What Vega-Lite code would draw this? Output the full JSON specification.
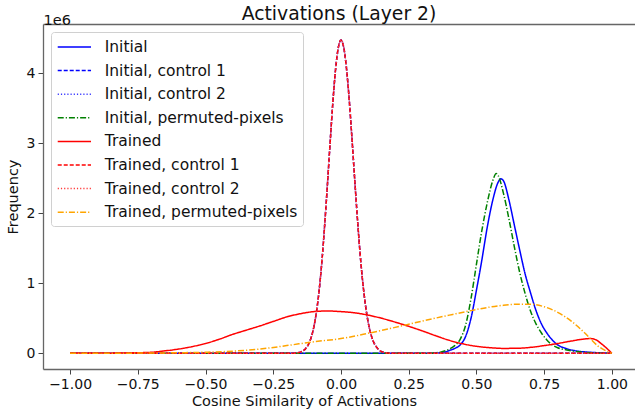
{
  "$schema": "https://vega.github.io/schema/vega-lite/v6.json",
  "width": 592,
  "height": 345,
  "autosize": {"type": "none"},
  "padding": {"left": 43, "top": 24, "right": 0, "bottom": 48},
  "config": {
    "font": "DejaVu Sans",
    "view": {"stroke": null},
    "axis": {"grid": false, "domainColor": "#666", "domainWidth": 1.3, "tickColor": "#444", "tickWidth": 1, "tickSize": 5, "labelColor": "#111", "titleColor": "#111", "labelFontSize": 14, "titleFontSize": 14.5, "titleFontWeight": "normal", "labelPadding": 3}
  },
  "title": {"text": "Activations (Layer 2)", "fontSize": 18.8, "fontWeight": "normal", "color": "#111", "anchor": "middle", "baseline": "alphabetic", "offset": -8, "dy": 19},
  "data": {"values": [
    {"s":"Initial","x":-1,"y":0},{"s":"Initial","x":-0.5,"y":0},{"s":"Initial","x":0,"y":0},{"s":"Initial","x":0.3,"y":0},{"s":"Initial","x":0.35,"y":0.004},{"s":"Initial","x":0.38,"y":0.015},{"s":"Initial","x":0.4,"y":0.04},{"s":"Initial","x":0.42,"y":0.07},{"s":"Initial","x":0.44,"y":0.12},{"s":"Initial","x":0.46,"y":0.24},{"s":"Initial","x":0.48,"y":0.5},{"s":"Initial","x":0.5,"y":0.9},{"s":"Initial","x":0.52,"y":1.33},{"s":"Initial","x":0.54,"y":1.8},{"s":"Initial","x":0.56,"y":2.18},{"s":"Initial","x":0.58,"y":2.44},{"s":"Initial","x":0.59,"y":2.49},{"s":"Initial","x":0.6,"y":2.46},{"s":"Initial","x":0.62,"y":2.19},{"s":"Initial","x":0.64,"y":1.83},{"s":"Initial","x":0.66,"y":1.47},{"s":"Initial","x":0.68,"y":1.13},{"s":"Initial","x":0.7,"y":0.86},{"s":"Initial","x":0.72,"y":0.61},{"s":"Initial","x":0.74,"y":0.42},{"s":"Initial","x":0.76,"y":0.29},{"s":"Initial","x":0.78,"y":0.19},{"s":"Initial","x":0.8,"y":0.12},{"s":"Initial","x":0.83,"y":0.07},{"s":"Initial","x":0.86,"y":0.04},{"s":"Initial","x":0.9,"y":0.02},{"s":"Initial","x":0.95,"y":0.008},{"s":"Initial","x":1,"y":0},

    {"s":"Initial, control 1","x":-1,"y":0},{"s":"Initial, control 1","x":-0.6,"y":0},{"s":"Initial, control 1","x":-0.3,"y":0},{"s":"Initial, control 1","x":-0.2,"y":0},{"s":"Initial, control 1","x":-0.18,"y":0.001},{"s":"Initial, control 1","x":-0.16,"y":0.008},{"s":"Initial, control 1","x":-0.15,"y":0.017},{"s":"Initial, control 1","x":-0.14,"y":0.035},{"s":"Initial, control 1","x":-0.13,"y":0.069},{"s":"Initial, control 1","x":-0.12,"y":0.128},{"s":"Initial, control 1","x":-0.11,"y":0.225},{"s":"Initial, control 1","x":-0.1,"y":0.379},{"s":"Initial, control 1","x":-0.09,"y":0.605},{"s":"Initial, control 1","x":-0.08,"y":0.92},{"s":"Initial, control 1","x":-0.07,"y":1.33},{"s":"Initial, control 1","x":-0.06,"y":1.84},{"s":"Initial, control 1","x":-0.05,"y":2.41},{"s":"Initial, control 1","x":-0.04,"y":3.01},{"s":"Initial, control 1","x":-0.03,"y":3.58},{"s":"Initial, control 1","x":-0.02,"y":4.05},{"s":"Initial, control 1","x":-0.01,"y":4.36},{"s":"Initial, control 1","x":0,"y":4.47},{"s":"Initial, control 1","x":0.01,"y":4.37},{"s":"Initial, control 1","x":0.02,"y":4.08},{"s":"Initial, control 1","x":0.03,"y":3.64},{"s":"Initial, control 1","x":0.04,"y":3.1},{"s":"Initial, control 1","x":0.05,"y":2.52},{"s":"Initial, control 1","x":0.06,"y":1.96},{"s":"Initial, control 1","x":0.07,"y":1.45},{"s":"Initial, control 1","x":0.08,"y":1.03},{"s":"Initial, control 1","x":0.09,"y":0.7},{"s":"Initial, control 1","x":0.1,"y":0.45},{"s":"Initial, control 1","x":0.11,"y":0.28},{"s":"Initial, control 1","x":0.12,"y":0.165},{"s":"Initial, control 1","x":0.13,"y":0.095},{"s":"Initial, control 1","x":0.14,"y":0.05},{"s":"Initial, control 1","x":0.15,"y":0.025},{"s":"Initial, control 1","x":0.16,"y":0.012},{"s":"Initial, control 1","x":0.18,"y":0.002},{"s":"Initial, control 1","x":0.2,"y":0},{"s":"Initial, control 1","x":0.3,"y":0},{"s":"Initial, control 1","x":0.6,"y":0},{"s":"Initial, control 1","x":1,"y":0},

    {"s":"Initial, control 2","x":-1,"y":0},{"s":"Initial, control 2","x":-0.6,"y":0},{"s":"Initial, control 2","x":-0.3,"y":0},{"s":"Initial, control 2","x":-0.2,"y":0},{"s":"Initial, control 2","x":-0.18,"y":0.001},{"s":"Initial, control 2","x":-0.16,"y":0.008},{"s":"Initial, control 2","x":-0.15,"y":0.017},{"s":"Initial, control 2","x":-0.14,"y":0.035},{"s":"Initial, control 2","x":-0.13,"y":0.069},{"s":"Initial, control 2","x":-0.12,"y":0.128},{"s":"Initial, control 2","x":-0.11,"y":0.225},{"s":"Initial, control 2","x":-0.1,"y":0.379},{"s":"Initial, control 2","x":-0.09,"y":0.605},{"s":"Initial, control 2","x":-0.08,"y":0.92},{"s":"Initial, control 2","x":-0.07,"y":1.33},{"s":"Initial, control 2","x":-0.06,"y":1.84},{"s":"Initial, control 2","x":-0.05,"y":2.41},{"s":"Initial, control 2","x":-0.04,"y":3.01},{"s":"Initial, control 2","x":-0.03,"y":3.58},{"s":"Initial, control 2","x":-0.02,"y":4.05},{"s":"Initial, control 2","x":-0.01,"y":4.36},{"s":"Initial, control 2","x":0,"y":4.47},{"s":"Initial, control 2","x":0.01,"y":4.37},{"s":"Initial, control 2","x":0.02,"y":4.08},{"s":"Initial, control 2","x":0.03,"y":3.64},{"s":"Initial, control 2","x":0.04,"y":3.1},{"s":"Initial, control 2","x":0.05,"y":2.52},{"s":"Initial, control 2","x":0.06,"y":1.96},{"s":"Initial, control 2","x":0.07,"y":1.45},{"s":"Initial, control 2","x":0.08,"y":1.03},{"s":"Initial, control 2","x":0.09,"y":0.7},{"s":"Initial, control 2","x":0.1,"y":0.45},{"s":"Initial, control 2","x":0.11,"y":0.28},{"s":"Initial, control 2","x":0.12,"y":0.165},{"s":"Initial, control 2","x":0.13,"y":0.095},{"s":"Initial, control 2","x":0.14,"y":0.05},{"s":"Initial, control 2","x":0.15,"y":0.025},{"s":"Initial, control 2","x":0.16,"y":0.012},{"s":"Initial, control 2","x":0.18,"y":0.002},{"s":"Initial, control 2","x":0.2,"y":0},{"s":"Initial, control 2","x":0.3,"y":0},{"s":"Initial, control 2","x":0.6,"y":0},{"s":"Initial, control 2","x":1,"y":0},

    {"s":"Initial, permuted-pixels","x":-1,"y":0},{"s":"Initial, permuted-pixels","x":-0.5,"y":0},{"s":"Initial, permuted-pixels","x":0,"y":0},{"s":"Initial, permuted-pixels","x":0.3,"y":0},{"s":"Initial, permuted-pixels","x":0.34,"y":0.005},{"s":"Initial, permuted-pixels","x":0.37,"y":0.02},{"s":"Initial, permuted-pixels","x":0.4,"y":0.06},{"s":"Initial, permuted-pixels","x":0.42,"y":0.11},{"s":"Initial, permuted-pixels","x":0.44,"y":0.2},{"s":"Initial, permuted-pixels","x":0.46,"y":0.4},{"s":"Initial, permuted-pixels","x":0.48,"y":0.78},{"s":"Initial, permuted-pixels","x":0.5,"y":1.27},{"s":"Initial, permuted-pixels","x":0.52,"y":1.75},{"s":"Initial, permuted-pixels","x":0.54,"y":2.15},{"s":"Initial, permuted-pixels","x":0.56,"y":2.46},{"s":"Initial, permuted-pixels","x":0.573,"y":2.567},{"s":"Initial, permuted-pixels","x":0.58,"y":2.54},{"s":"Initial, permuted-pixels","x":0.6,"y":2.28},{"s":"Initial, permuted-pixels","x":0.62,"y":1.92},{"s":"Initial, permuted-pixels","x":0.64,"y":1.52},{"s":"Initial, permuted-pixels","x":0.66,"y":1.15},{"s":"Initial, permuted-pixels","x":0.68,"y":0.85},{"s":"Initial, permuted-pixels","x":0.7,"y":0.6},{"s":"Initial, permuted-pixels","x":0.72,"y":0.42},{"s":"Initial, permuted-pixels","x":0.74,"y":0.29},{"s":"Initial, permuted-pixels","x":0.76,"y":0.19},{"s":"Initial, permuted-pixels","x":0.78,"y":0.12},{"s":"Initial, permuted-pixels","x":0.8,"y":0.08},{"s":"Initial, permuted-pixels","x":0.83,"y":0.05},{"s":"Initial, permuted-pixels","x":0.86,"y":0.03},{"s":"Initial, permuted-pixels","x":0.9,"y":0.015},{"s":"Initial, permuted-pixels","x":0.95,"y":0.005},{"s":"Initial, permuted-pixels","x":1,"y":0},

    {"s":"Trained","x":-1,"y":0},{"s":"Trained","x":-0.9,"y":0.001},{"s":"Trained","x":-0.8,"y":0.004},{"s":"Trained","x":-0.75,"y":0.008},{"s":"Trained","x":-0.7,"y":0.015},{"s":"Trained","x":-0.65,"y":0.035},{"s":"Trained","x":-0.6,"y":0.06},{"s":"Trained","x":-0.55,"y":0.095},{"s":"Trained","x":-0.5,"y":0.14},{"s":"Trained","x":-0.45,"y":0.2},{"s":"Trained","x":-0.4,"y":0.27},{"s":"Trained","x":-0.35,"y":0.33},{"s":"Trained","x":-0.3,"y":0.39},{"s":"Trained","x":-0.25,"y":0.455},{"s":"Trained","x":-0.2,"y":0.52},{"s":"Trained","x":-0.15,"y":0.565},{"s":"Trained","x":-0.1,"y":0.595},{"s":"Trained","x":-0.05,"y":0.604},{"s":"Trained","x":0,"y":0.595},{"s":"Trained","x":0.05,"y":0.578},{"s":"Trained","x":0.1,"y":0.545},{"s":"Trained","x":0.15,"y":0.5},{"s":"Trained","x":0.2,"y":0.445},{"s":"Trained","x":0.25,"y":0.385},{"s":"Trained","x":0.3,"y":0.32},{"s":"Trained","x":0.35,"y":0.25},{"s":"Trained","x":0.4,"y":0.185},{"s":"Trained","x":0.45,"y":0.135},{"s":"Trained","x":0.5,"y":0.1},{"s":"Trained","x":0.55,"y":0.08},{"s":"Trained","x":0.6,"y":0.07},{"s":"Trained","x":0.65,"y":0.072},{"s":"Trained","x":0.7,"y":0.085},{"s":"Trained","x":0.75,"y":0.11},{"s":"Trained","x":0.8,"y":0.14},{"s":"Trained","x":0.85,"y":0.175},{"s":"Trained","x":0.9,"y":0.205},{"s":"Trained","x":0.92,"y":0.21},{"s":"Trained","x":0.94,"y":0.195},{"s":"Trained","x":0.96,"y":0.14},{"s":"Trained","x":0.98,"y":0.075},{"s":"Trained","x":1,"y":0},

    {"s":"Trained, control 1","x":-1,"y":0},{"s":"Trained, control 1","x":-0.6,"y":0},{"s":"Trained, control 1","x":-0.3,"y":0},{"s":"Trained, control 1","x":-0.2,"y":0},{"s":"Trained, control 1","x":-0.18,"y":0.001},{"s":"Trained, control 1","x":-0.16,"y":0.008},{"s":"Trained, control 1","x":-0.15,"y":0.017},{"s":"Trained, control 1","x":-0.14,"y":0.035},{"s":"Trained, control 1","x":-0.13,"y":0.069},{"s":"Trained, control 1","x":-0.12,"y":0.128},{"s":"Trained, control 1","x":-0.11,"y":0.225},{"s":"Trained, control 1","x":-0.1,"y":0.379},{"s":"Trained, control 1","x":-0.09,"y":0.605},{"s":"Trained, control 1","x":-0.08,"y":0.92},{"s":"Trained, control 1","x":-0.07,"y":1.33},{"s":"Trained, control 1","x":-0.06,"y":1.84},{"s":"Trained, control 1","x":-0.05,"y":2.41},{"s":"Trained, control 1","x":-0.04,"y":3.01},{"s":"Trained, control 1","x":-0.03,"y":3.58},{"s":"Trained, control 1","x":-0.02,"y":4.05},{"s":"Trained, control 1","x":-0.01,"y":4.36},{"s":"Trained, control 1","x":0,"y":4.47},{"s":"Trained, control 1","x":0.01,"y":4.37},{"s":"Trained, control 1","x":0.02,"y":4.08},{"s":"Trained, control 1","x":0.03,"y":3.64},{"s":"Trained, control 1","x":0.04,"y":3.1},{"s":"Trained, control 1","x":0.05,"y":2.52},{"s":"Trained, control 1","x":0.06,"y":1.96},{"s":"Trained, control 1","x":0.07,"y":1.45},{"s":"Trained, control 1","x":0.08,"y":1.03},{"s":"Trained, control 1","x":0.09,"y":0.7},{"s":"Trained, control 1","x":0.1,"y":0.45},{"s":"Trained, control 1","x":0.11,"y":0.28},{"s":"Trained, control 1","x":0.12,"y":0.165},{"s":"Trained, control 1","x":0.13,"y":0.095},{"s":"Trained, control 1","x":0.14,"y":0.05},{"s":"Trained, control 1","x":0.15,"y":0.025},{"s":"Trained, control 1","x":0.16,"y":0.012},{"s":"Trained, control 1","x":0.18,"y":0.002},{"s":"Trained, control 1","x":0.2,"y":0},{"s":"Trained, control 1","x":0.3,"y":0},{"s":"Trained, control 1","x":0.6,"y":0},{"s":"Trained, control 1","x":1,"y":0},

    {"s":"Trained, control 2","x":-1,"y":0},{"s":"Trained, control 2","x":-0.6,"y":0},{"s":"Trained, control 2","x":-0.3,"y":0},{"s":"Trained, control 2","x":-0.2,"y":0},{"s":"Trained, control 2","x":-0.18,"y":0.001},{"s":"Trained, control 2","x":-0.16,"y":0.008},{"s":"Trained, control 2","x":-0.15,"y":0.017},{"s":"Trained, control 2","x":-0.14,"y":0.035},{"s":"Trained, control 2","x":-0.13,"y":0.069},{"s":"Trained, control 2","x":-0.12,"y":0.128},{"s":"Trained, control 2","x":-0.11,"y":0.225},{"s":"Trained, control 2","x":-0.1,"y":0.379},{"s":"Trained, control 2","x":-0.09,"y":0.605},{"s":"Trained, control 2","x":-0.08,"y":0.92},{"s":"Trained, control 2","x":-0.07,"y":1.33},{"s":"Trained, control 2","x":-0.06,"y":1.84},{"s":"Trained, control 2","x":-0.05,"y":2.41},{"s":"Trained, control 2","x":-0.04,"y":3.01},{"s":"Trained, control 2","x":-0.03,"y":3.58},{"s":"Trained, control 2","x":-0.02,"y":4.05},{"s":"Trained, control 2","x":-0.01,"y":4.36},{"s":"Trained, control 2","x":0,"y":4.47},{"s":"Trained, control 2","x":0.01,"y":4.37},{"s":"Trained, control 2","x":0.02,"y":4.08},{"s":"Trained, control 2","x":0.03,"y":3.64},{"s":"Trained, control 2","x":0.04,"y":3.1},{"s":"Trained, control 2","x":0.05,"y":2.52},{"s":"Trained, control 2","x":0.06,"y":1.96},{"s":"Trained, control 2","x":0.07,"y":1.45},{"s":"Trained, control 2","x":0.08,"y":1.03},{"s":"Trained, control 2","x":0.09,"y":0.7},{"s":"Trained, control 2","x":0.1,"y":0.45},{"s":"Trained, control 2","x":0.11,"y":0.28},{"s":"Trained, control 2","x":0.12,"y":0.165},{"s":"Trained, control 2","x":0.13,"y":0.095},{"s":"Trained, control 2","x":0.14,"y":0.05},{"s":"Trained, control 2","x":0.15,"y":0.025},{"s":"Trained, control 2","x":0.16,"y":0.012},{"s":"Trained, control 2","x":0.18,"y":0.002},{"s":"Trained, control 2","x":0.2,"y":0},{"s":"Trained, control 2","x":0.3,"y":0},{"s":"Trained, control 2","x":0.6,"y":0},{"s":"Trained, control 2","x":1,"y":0},

    {"s":"Trained, permuted-pixels","x":-1,"y":0},{"s":"Trained, permuted-pixels","x":-0.9,"y":0.001},{"s":"Trained, permuted-pixels","x":-0.8,"y":0.002},{"s":"Trained, permuted-pixels","x":-0.7,"y":0.004},{"s":"Trained, permuted-pixels","x":-0.6,"y":0.008},{"s":"Trained, permuted-pixels","x":-0.5,"y":0.015},{"s":"Trained, permuted-pixels","x":-0.4,"y":0.03},{"s":"Trained, permuted-pixels","x":-0.3,"y":0.06},{"s":"Trained, permuted-pixels","x":-0.2,"y":0.11},{"s":"Trained, permuted-pixels","x":-0.1,"y":0.165},{"s":"Trained, permuted-pixels","x":0,"y":0.21},{"s":"Trained, permuted-pixels","x":0.1,"y":0.285},{"s":"Trained, permuted-pixels","x":0.2,"y":0.37},{"s":"Trained, permuted-pixels","x":0.3,"y":0.46},{"s":"Trained, permuted-pixels","x":0.4,"y":0.545},{"s":"Trained, permuted-pixels","x":0.5,"y":0.625},{"s":"Trained, permuted-pixels","x":0.55,"y":0.66},{"s":"Trained, permuted-pixels","x":0.6,"y":0.685},{"s":"Trained, permuted-pixels","x":0.65,"y":0.7},{"s":"Trained, permuted-pixels","x":0.7,"y":0.7},{"s":"Trained, permuted-pixels","x":0.75,"y":0.665},{"s":"Trained, permuted-pixels","x":0.8,"y":0.585},{"s":"Trained, permuted-pixels","x":0.85,"y":0.46},{"s":"Trained, permuted-pixels","x":0.9,"y":0.29},{"s":"Trained, permuted-pixels","x":0.95,"y":0.1},{"s":"Trained, permuted-pixels","x":1,"y":0}
  ]},
  "layer": [
    {
      "mark": {"type": "line", "strokeWidth": 1.5, "interpolate": "monotone"},
      "encoding": {
        "x": {"field": "x", "type": "quantitative", "scale": {"domain": [-1.1, 1.0854], "nice": false, "zero": false},
              "axis": {"values": [-1, -0.75, -0.5, -0.25, 0, 0.25, 0.5, 0.75, 1], "format": ".2f", "title": "Cosine Similarity of Activations", "titleX": 261, "titlePadding": 3}},
        "y": {"field": "y", "type": "quantitative", "scale": {"domain": [-0.224, 4.7], "nice": false, "zero": false},
              "axis": {"values": [0, 1, 2, 3, 4], "format": "d", "title": "Frequency", "titlePadding": 6}},
        "color": {"field": "s", "type": "nominal",
                  "scale": {"domain": ["Initial", "Initial, control 1", "Initial, control 2", "Initial, permuted-pixels", "Trained", "Trained, control 1", "Trained, control 2", "Trained, permuted-pixels"],
                            "range": ["#0000ff", "#0000ff", "#3a3aff", "#008000", "#ff0000", "#ff0000", "#ff3a3a", "#ffa500"]},
                  "legend": {"title": null, "orient": "top-left", "offset": 8, "fillColor": "rgba(255,255,255,0.8)", "strokeColor": "#d0d0d0", "cornerRadius": 3, "padding": 5, "labelFontSize": 15.5, "labelColor": "#111", "labelLimit": 400, "symbolType": "M-0.92,0H2.78", "symbolSize": 324, "symbolStrokeWidth": 1.5, "labelOffset": 28.7, "rowPadding": 4.6}},
        "strokeDash": {"field": "s", "type": "nominal",
                  "scale": {"domain": ["Initial", "Initial, control 1", "Initial, control 2", "Initial, permuted-pixels", "Trained", "Trained, control 1", "Trained, control 2", "Trained, permuted-pixels"],
                            "range": [[1, 0], [4, 2], [1.2, 2], [6, 2, 1.2, 2], [1, 0], [4, 2], [1.2, 2], [6, 2, 1.2, 2]]},
                  "legend": {"title": null, "orient": "top-left", "offset": 8, "fillColor": "rgba(255,255,255,0.8)", "strokeColor": "#d0d0d0", "cornerRadius": 3, "padding": 5, "labelFontSize": 15.5, "labelColor": "#111", "labelLimit": 400, "symbolType": "M-0.92,0H2.78", "symbolSize": 324, "symbolStrokeWidth": 1.5, "labelOffset": 28.7, "rowPadding": 4.6}}
      }
    },
    {
      "mark": {"type": "line", "opacity": 0},
      "encoding": {
        "x": {"field": "x", "type": "quantitative",
              "axis": {"orient": "top", "labels": false, "ticks": false, "domain": true, "title": "1e6", "titleX": 0, "titleY": 0, "titleAlign": "left", "titleBaseline": "alphabetic", "titleAngle": 0, "titleFontSize": 14.5}},
        "y": {"field": "y", "type": "quantitative"}
      }
    }
  ],
  "resolve": {"axis": {"x": "independent"}}
}
